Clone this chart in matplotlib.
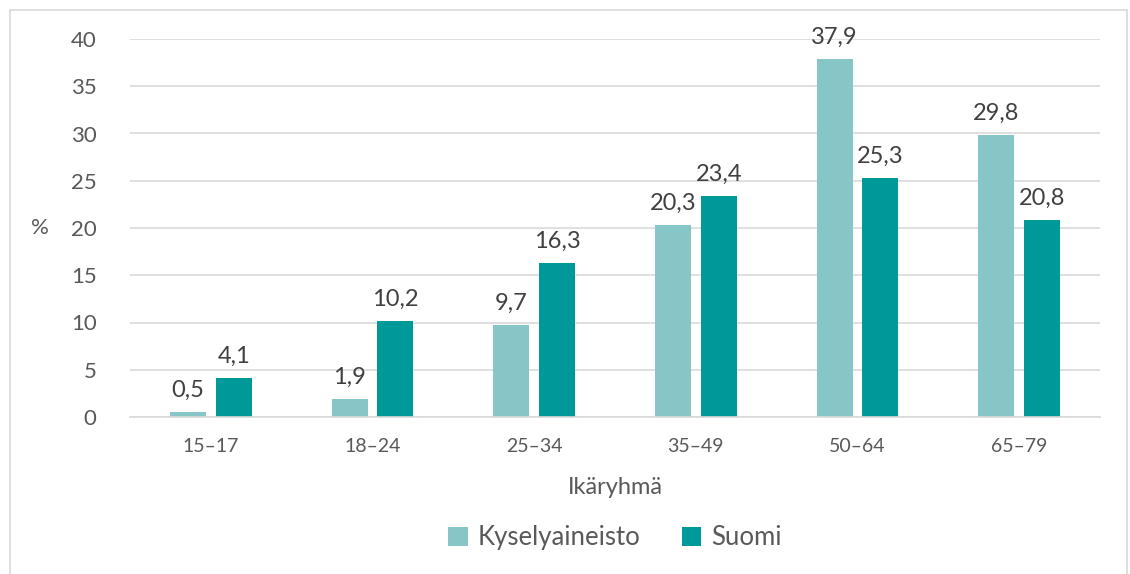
import matplotlib.pyplot as plt
import numpy as np
from matplotlib.patches import Rectangle

# ikäryhmät ja osuudet (%)
groups = ["15–17", "18–24", "25–34", "35–49", "50–64", "65–79"]
kysely = [0.5, 1.9, 9.7, 20.3, 37.9, 29.8]
suomi = [4.1, 10.2, 16.3, 23.4, 25.3, 20.8]
series_names = ["Kyselyaineisto", "Suomi"]

light = "#86C6C6"
dark = "#009999"
txt = "#595959"

plt.rcParams['font.family'] = ['Lato', 'DejaVu Sans']

fig = plt.figure(figsize=(11.3, 5.74), dpi=100)
ax = fig.add_axes([130 / 1130, 1 - 417 / 574, 970 / 1130, 378 / 574])

x = np.arange(len(groups))
w = 0.223
off = 0.142
b1 = ax.bar(x - off, kysely, w, color=light, label=series_names[0], zorder=2)
b2 = ax.bar(x + off, suomi, w, color=dark, label=series_names[1], zorder=2)

for bars, vals in [(b1, kysely), (b2, suomi)]:
    for b, v in zip(bars, vals):
        ax.annotate(f"{v:.1f}".replace(".", ","), (b.get_x() + b.get_width() / 2, v),
                    xytext=(0, 8), textcoords="offset points", ha="center", va="bottom",
                    fontsize=17, color="#404040")

ax.set_xlim(-0.5, len(groups) - 0.5)
ax.set_ylim(0, 40)
ax.set_yticks(range(0, 41, 5))
ax.set_xticks(x)
ax.set_xticklabels(groups)
ax.grid(axis="y", color="#D9D9D9", linewidth=1.2, zorder=0)
for s in ["top", "right", "left"]:
    ax.spines[s].set_visible(False)
ax.spines["bottom"].set_color("#D9D9D9")
ax.spines["bottom"].set_linewidth(1.2)
ax.tick_params(axis="both", length=0, colors=txt)
ax.tick_params(axis="y", pad=24, labelsize=16)
ax.tick_params(axis="x", pad=15, labelsize=14)

ax.set_xlabel("Ikäryhmä", fontsize=17, color=txt, labelpad=16)
fig.text(40 / 1130, 1 - 228 / 574, "%", fontsize=16, color=txt, ha="center", va="center")

ax.legend(loc="upper center", bbox_to_anchor=(0.5, -0.225), ncol=2, frameon=False,
          fontsize=18.5, labelcolor=txt, handlelength=0.75, handleheight=0.75,
          handletextpad=0.4, columnspacing=1.6)

fig.patches.append(Rectangle((10 / 1130, -0.01), 1117 / 1130, 1 - 10 / 574 + 0.01,
                             transform=fig.transFigure, fill=False,
                             edgecolor="#D9D9D9", linewidth=1.2))

fig.savefig("out.png", dpi=100)
